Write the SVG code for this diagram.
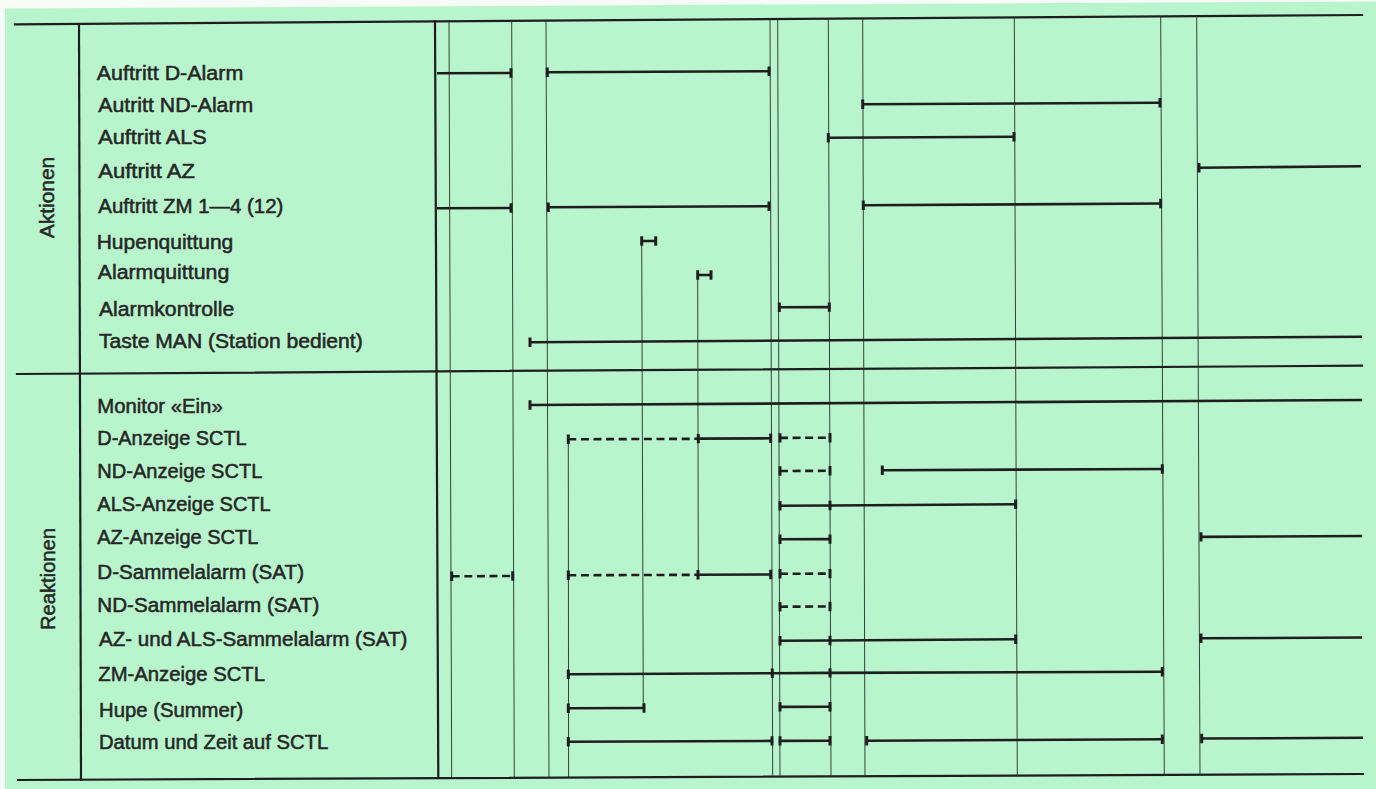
<svg xmlns="http://www.w3.org/2000/svg" width="1376" height="789" viewBox="0 0 1376 789">
<defs>
<style>
.lbl{font-family:"Liberation Sans",Arial,sans-serif;font-size:19.5px;fill:#262626;stroke:#262626;stroke-width:0.5px}
.side{font-size:20.5px}
.fr{stroke:#1e1e1e;stroke-width:2.2;fill:none;stroke-linecap:square}
.th{stroke:#2a2a2a;stroke-width:0.9;fill:none}
.b{stroke:#1e1e1e;stroke-width:2.6;fill:none}
.d{stroke:#1e1e1e;stroke-width:2.6;fill:none;stroke-dasharray:8 4.6}
</style>
<marker id="tk" markerUnits="userSpaceOnUse" markerWidth="6" markerHeight="12" refX="3" refY="6" orient="auto">
<path d="M3,1.3 V10.7" stroke="#1e1e1e" stroke-width="3" stroke-dasharray="none" fill="none"/>
</marker>
</defs>
<rect x="0" y="0" width="1376" height="789" fill="#f7fbf8"/>
<polygon points="5,8.5 1376,1.5 1376,789 5,789" fill="#b8f5cc"/>

<g id="frame">
<line class="fr" x1="15" y1="24.3" x2="1362" y2="15"/>
<line class="fr" x1="17" y1="374" x2="1362" y2="365.7"/>
<line class="fr" x1="18" y1="780" x2="1363" y2="774"/>
<line class="fr" x1="79" y1="24.3" x2="81" y2="780"/>
<line class="fr" x1="435" y1="21.4" x2="438.3" y2="778"/>
</g>

<g id="grid">
<line class="th" x1="449" y1="21.3" x2="451.7" y2="778.1"/>
<line class="th" x1="511.7" y1="20.9" x2="514.3" y2="777.8"/>
<line class="th" x1="546" y1="20.6" x2="549" y2="777.6"/>
<line class="th" x1="770" y1="19.1" x2="772.7" y2="776.6"/>
<line class="th" x1="777.7" y1="19" x2="780" y2="776.6"/>
<line class="th" x1="828.3" y1="18.7" x2="831" y2="776.4"/>
<line class="th" x1="862.7" y1="18.5" x2="865" y2="776.2"/>
<line class="th" x1="1014.3" y1="17.4" x2="1017.3" y2="775.5"/>
<line class="th" x1="1160.7" y1="16.4" x2="1164.3" y2="774.9"/>
<line class="th" x1="1196.7" y1="16.1" x2="1200" y2="774.7"/>
<line class="th" x1="568.3" y1="439.3" x2="568.6" y2="777.5"/>
<line class="th" x1="641.7" y1="241" x2="643.3" y2="708"/>
<line class="th" x1="697.7" y1="275" x2="698.3" y2="575"/>
</g>

<g id="Aktionen">
<text class="lbl side" transform="translate(54.3,197.5) rotate(-90)" text-anchor="middle" textLength="81.5" lengthAdjust="spacingAndGlyphs">Aktionen</text>
</g>
<g id="Reaktionen">
<text class="lbl side" transform="translate(55,579) rotate(-90)" text-anchor="middle" textLength="102" lengthAdjust="spacingAndGlyphs">Reaktionen</text>
</g>

<g id="labels">
<text class="lbl" x="96.7" y="80" textLength="146.6" lengthAdjust="spacingAndGlyphs">Auftritt D-Alarm</text>
<text class="lbl" x="98.3" y="112" textLength="155" lengthAdjust="spacingAndGlyphs">Autritt ND-Alarm</text>
<text class="lbl" x="98.3" y="144" textLength="108.4" lengthAdjust="spacingAndGlyphs">Auftritt ALS</text>
<text class="lbl" x="98.3" y="177.7" textLength="96.7" lengthAdjust="spacingAndGlyphs">Auftritt AZ</text>
<text class="lbl" x="98.3" y="212.7" textLength="185" lengthAdjust="spacingAndGlyphs">Auftritt ZM 1—4 (12)</text>
<text class="lbl" x="96.7" y="249.3" textLength="136.6" lengthAdjust="spacingAndGlyphs">Hupenquittung</text>
<text class="lbl" x="97.7" y="279.3" textLength="131.6" lengthAdjust="spacingAndGlyphs">Alarmquittung</text>
<text class="lbl" x="99" y="316" textLength="135.3" lengthAdjust="spacingAndGlyphs">Alarmkontrolle</text>
<text class="lbl" x="99" y="348.3" textLength="263.7" lengthAdjust="spacingAndGlyphs">Taste MAN (Station bedient)</text>
<text class="lbl" x="97.3" y="412.7" textLength="125.4" lengthAdjust="spacingAndGlyphs">Monitor «Ein»</text>
<text class="lbl" x="97.3" y="445" textLength="149.4" lengthAdjust="spacingAndGlyphs">D-Anzeige SCTL</text>
<text class="lbl" x="97.3" y="478.3" textLength="165" lengthAdjust="spacingAndGlyphs">ND-Anzeige SCTL</text>
<text class="lbl" x="97.3" y="510.7" textLength="173.4" lengthAdjust="spacingAndGlyphs">ALS-Anzeige SCTL</text>
<text class="lbl" x="97.3" y="544" textLength="161" lengthAdjust="spacingAndGlyphs">AZ-Anzeige SCTL</text>
<text class="lbl" x="97.3" y="579.3" textLength="206.7" lengthAdjust="spacingAndGlyphs">D-Sammelalarm (SAT)</text>
<text class="lbl" x="97.3" y="612.3" textLength="222" lengthAdjust="spacingAndGlyphs">ND-Sammelalarm (SAT)</text>
<text class="lbl" x="99" y="646" textLength="308.3" lengthAdjust="spacingAndGlyphs">AZ- und ALS-Sammelalarm (SAT)</text>
<text class="lbl" x="98.3" y="680.7" textLength="166.7" lengthAdjust="spacingAndGlyphs">ZM-Anzeige SCTL</text>
<text class="lbl" x="99" y="716.7" textLength="144.3" lengthAdjust="spacingAndGlyphs">Hupe (Summer)</text>
<text class="lbl" x="99" y="749.3" textLength="229.3" lengthAdjust="spacingAndGlyphs">Datum und Zeit auf SCTL</text>
</g>

<g id="connectors">
<line class="b" x1="437" y1="73.3" x2="511" y2="73" marker-end="url(#tk)"/>
<line class="b" x1="547.3" y1="72.3" x2="769" y2="71.2" marker-start="url(#tk)" marker-end="url(#tk)"/>
<line class="b" x1="862.7" y1="104.3" x2="1160" y2="102.8" marker-start="url(#tk)" marker-end="url(#tk)"/>
<line class="b" x1="828.3" y1="137.7" x2="1014" y2="136.7" marker-start="url(#tk)" marker-end="url(#tk)"/>
<line class="b" x1="1199" y1="167.7" x2="1361" y2="166.3" marker-start="url(#tk)"/>
<line class="b" x1="437" y1="208.3" x2="511" y2="208" marker-end="url(#tk)"/>
<line class="b" x1="548.3" y1="207.3" x2="769" y2="206.2" marker-start="url(#tk)" marker-end="url(#tk)"/>
<line class="b" x1="863.3" y1="205.3" x2="1160.7" y2="203.5" marker-start="url(#tk)" marker-end="url(#tk)"/>
<line class="b" x1="641.7" y1="241" x2="655.7" y2="241" marker-start="url(#tk)" marker-end="url(#tk)"/>
<line class="b" x1="697.7" y1="275" x2="711" y2="275" marker-start="url(#tk)" marker-end="url(#tk)"/>
<line class="b" x1="779.3" y1="307.3" x2="829.3" y2="307.1" marker-start="url(#tk)" marker-end="url(#tk)"/>
<line class="b" x1="530" y1="342.3" x2="1362" y2="336.7" marker-start="url(#tk)"/>
<line class="b" x1="530" y1="405" x2="1362" y2="400" marker-start="url(#tk)"/>
<line class="d" x1="568.3" y1="439.3" x2="698.3" y2="438.8" marker-start="url(#tk)"/>
<line class="b" x1="698.3" y1="438.6" x2="770.7" y2="438.3" marker-start="url(#tk)" marker-end="url(#tk)"/>
<line class="d" x1="780" y1="437.9" x2="830" y2="437.7" marker-start="url(#tk)" marker-end="url(#tk)"/>
<line class="d" x1="780" y1="471" x2="830" y2="470.8" marker-start="url(#tk)" marker-end="url(#tk)"/>
<line class="b" x1="882.3" y1="470.2" x2="1162.3" y2="469" marker-start="url(#tk)" marker-end="url(#tk)"/>
<line class="b" x1="780" y1="505.7" x2="830" y2="505.5" marker-start="url(#tk)" marker-end="url(#tk)"/>
<line class="b" x1="830" y1="505.5" x2="1015.7" y2="504.3" marker-end="url(#tk)"/>
<line class="b" x1="780" y1="539.3" x2="830" y2="539.1" marker-start="url(#tk)" marker-end="url(#tk)"/>
<line class="b" x1="1201" y1="536.9" x2="1362" y2="536" marker-start="url(#tk)"/>
<line class="d" x1="451.7" y1="576.3" x2="512.7" y2="576" marker-start="url(#tk)" marker-end="url(#tk)"/>
<line class="d" x1="568.3" y1="575.3" x2="698" y2="574.8" marker-start="url(#tk)"/>
<line class="b" x1="698" y1="574.8" x2="770.7" y2="574.5" marker-start="url(#tk)" marker-end="url(#tk)"/>
<line class="d" x1="780" y1="573.8" x2="830" y2="573.6" marker-start="url(#tk)" marker-end="url(#tk)"/>
<line class="d" x1="780" y1="606.7" x2="830" y2="606.5" marker-start="url(#tk)" marker-end="url(#tk)"/>
<line class="b" x1="780" y1="640.7" x2="830" y2="640.5" marker-start="url(#tk)" marker-end="url(#tk)"/>
<line class="b" x1="830" y1="640.5" x2="1015.7" y2="639.3" marker-end="url(#tk)"/>
<line class="b" x1="1201" y1="638.3" x2="1362" y2="637.5" marker-start="url(#tk)"/>
<line class="b" x1="568.3" y1="674.3" x2="772.3" y2="673.2" marker-start="url(#tk)" marker-end="url(#tk)"/>
<line class="b" x1="772.3" y1="673.2" x2="830" y2="672.9" marker-end="url(#tk)"/>
<line class="b" x1="830" y1="672.9" x2="1162.3" y2="671.7" marker-end="url(#tk)"/>
<line class="b" x1="568.3" y1="708.3" x2="644" y2="708" marker-start="url(#tk)" marker-end="url(#tk)"/>
<line class="b" x1="780" y1="706.9" x2="830" y2="706.7" marker-start="url(#tk)" marker-end="url(#tk)"/>
<line class="b" x1="568.3" y1="741.7" x2="772" y2="740.9" marker-start="url(#tk)" marker-end="url(#tk)"/>
<line class="b" x1="780" y1="740.9" x2="830" y2="740.7" marker-start="url(#tk)" marker-end="url(#tk)"/>
<line class="b" x1="866.7" y1="740.7" x2="1162.3" y2="739.3" marker-start="url(#tk)" marker-end="url(#tk)"/>
<line class="b" x1="1201.7" y1="738.5" x2="1363" y2="737.8" marker-start="url(#tk)"/>
</g>
</svg>
